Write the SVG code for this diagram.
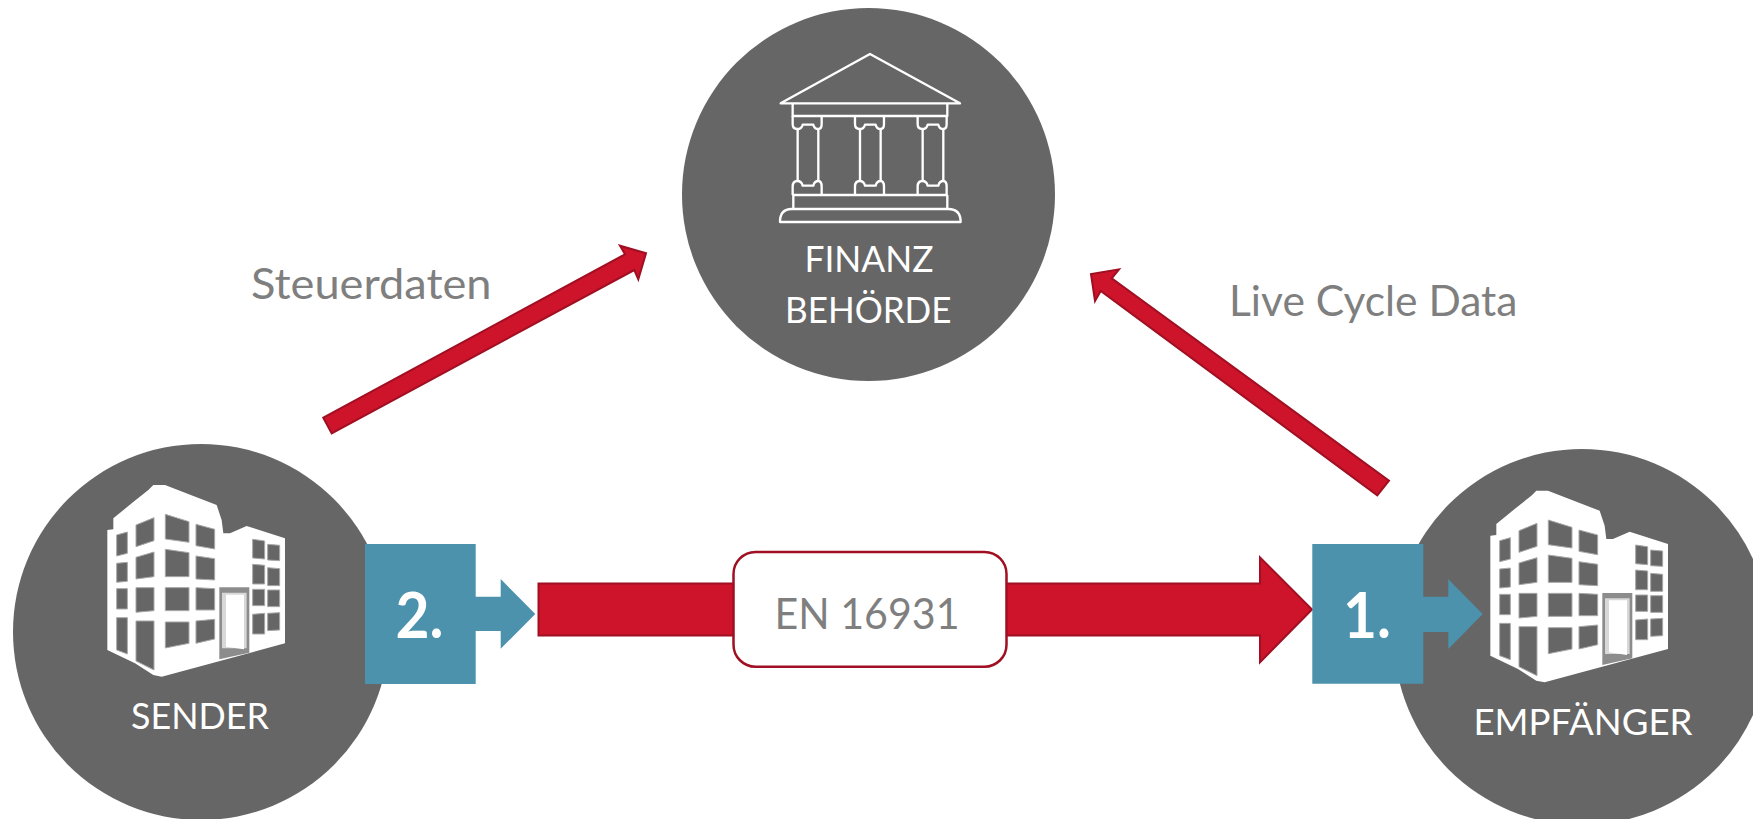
<svg xmlns="http://www.w3.org/2000/svg" width="1753" height="819" viewBox="0 0 1753 819">
<style>
text{font-family:Lato,"Open Sans","Liberation Sans",sans-serif}
.disc{fill:#666666}
.lbl{fill:#ffffff;font-size:37px}
.num{fill:#ffffff;font-size:64px;font-weight:700}
.grey{fill:#7f7f7f;font-size:42px}
.red{fill:#cd142b;stroke:#a00f22;stroke-width:2}
.blue{fill:#4c92ad}
.win{fill:#666666;stroke:#a8a8a8;stroke-width:3}
.tl{fill:none;stroke:#ffffff;stroke-width:7;stroke-linejoin:round}
</style>
<defs>
<filter id="soft" x="-5%" y="-5%" width="110%" height="110%"><feGaussianBlur stdDeviation="0.6"/></filter>
<g id="building" transform="scale(0.3333)" filter="url(#soft)">
<polygon fill="#ffffff" points="52,180 70,178 70,145 125,100 175,60 190,45 225,45 380,105 395,150 400,190 420,190 470,168 585,205 585,520 215,620 190,615 135,580 52,540"/>
<g class="win">
<polygon points="80,195 112,186 112,250 80,258"/><polygon points="80,280 112,277 112,334 80,337"/><polygon points="80,356 112,356 112,417 80,417"/><polygon points="80,443 112,443 112,552 80,540"/>
<polygon points="138,165 192,143 192,212 138,230"/><polygon points="138,262 192,246 192,320 138,327"/><polygon points="138,353 192,353 192,422 138,427"/><polygon points="138,453 192,453 192,600 138,573"/>
<polygon points="226,133 297,155 297,217 226,207"/><polygon points="226,238 297,248 297,320 226,320"/><polygon points="226,353 297,353 297,422 226,422"/><polygon points="226,456 297,456 297,520 226,534"/>
<polygon points="318,163 374,178 374,237 318,227"/><polygon points="318,258 374,266 374,330 318,327"/><polygon points="318,353 374,356 374,420 318,420"/><polygon points="318,453 374,448 374,507 318,520"/>
<polygon points="488,208 524,213 524,267 488,264"/><polygon points="488,283 524,286 524,342 488,342"/><polygon points="488,358 524,358 524,407 488,407"/><polygon points="488,433 524,430 524,492 488,492"/>
<polygon points="533,223 569,226 569,272 533,270"/><polygon points="533,293 569,296 569,347 533,347"/><polygon points="533,360 569,360 569,410 533,410"/><polygon points="533,430 569,428 569,480 533,482"/>
</g>
<polygon fill="#8c8c8c" points="388,352 478,352 478,548 388,568"/>
<polygon fill="#d8d8d8" points="396,368 470,368 470,535 396,535"/>
<polygon fill="#ffffff" points="408,374 462,374 462,538 408,530"/>
</g>
<g id="col" class="tl">
<path d="M218 258V282Q218 297 232 297Q245 297 248 284H280Q283 297 295 297Q305 297 305 282V258"/>
<path d="M218 495V470Q218 453 232 453Q245 453 248 467H280Q283 453 295 453Q305 453 305 470V495"/>
<path d="M233 297V453M295 297V453"/>
</g>
</defs>

<g id="node-finanz">
<circle class="disc" cx="868.500" cy="194.500" r="186.500"/>
<g transform="translate(720,30) scale(0.3333)" class="tl">
<polygon points="182,220 450,72 720,220"/>
<path d="M218 222V258H682V222"/>
<use href="#col"/><use href="#col" x="187"/><use href="#col" x="375"/>
<path d="M218 495H682M220 495V537M682 495V537"/>
<path d="M180 576Q180 537 215 537H685Q722 537 722 576Z"/>
</g>
<text class="lbl" x="804.500" y="271.700" textLength="129" lengthAdjust="spacingAndGlyphs">FINANZ</text>
<text class="lbl" x="785" y="323" textLength="166.500" lengthAdjust="spacingAndGlyphs">BEHÖRDE</text>
</g>

<g id="node-sender">
<circle class="disc" cx="201" cy="632" r="188"/>
<use href="#building" x="90" y="470"/>
<text class="lbl" x="131" y="729.300" textLength="138" lengthAdjust="spacingAndGlyphs">SENDER</text>
</g>

<g id="node-empfaenger">
<circle class="disc" cx="1582" cy="637" r="188"/>
<use href="#building" x="1473" y="475.700"/>
<text class="lbl" x="1473.500" y="735" textLength="219" lengthAdjust="spacingAndGlyphs">EMPFÄNGER</text>
</g>

<g id="connectors">
<polygon class="red" points="323.300,417.700 331.700,433.300 634.300,270 638.300,279.300 646,253.300 620,245.700 625,254.300"/>
<polygon class="red" points="1389,480.700 1377.300,495.300 1100.700,291 1095,301 1091,274 1119,269.300 1111.700,278.300"/>
<polygon class="red" points="538.500,583.500 1260,583.500 1260,557.300 1312,609.500 1260,662.300 1260,635.500 538.500,635.500"/>
</g>

<g id="node-standard">
<rect x="733.500" y="552" width="273" height="114.700" rx="22" fill="#ffffff" stroke="#a00f22" stroke-width="2.500"/>
<text class="grey" x="774.500" y="629.300" textLength="185" lengthAdjust="spacingAndGlyphs">EN 16931</text>
</g>

<g id="node-step2">
<polygon class="blue" points="365,544 475.700,544 475.700,596.700 500.700,596.700 500.700,579 535.300,614 500.700,648.700 500.700,631 475.700,631 475.700,684 365,684"/>
<text class="num" x="395.500" y="637.700" textLength="48" lengthAdjust="spacingAndGlyphs">2.</text>
</g>
<g id="node-step1">
<polygon class="blue" points="1312.300,544 1423.300,544 1423.300,596.700 1448.300,596.700 1448.300,579.300 1482.700,614 1448.300,649 1448.300,632 1423.300,632 1423.300,683.700 1312.300,683.700"/>
<text class="num" x="1343" y="637.700" textLength="48" lengthAdjust="spacingAndGlyphs">1.</text>
</g>

<text id="label-steuerdaten" class="grey" x="251" y="299.300" textLength="240.500" lengthAdjust="spacingAndGlyphs">Steuerdaten</text>
<text id="label-lcd" class="grey" x="1229" y="315.700" textLength="288.500" lengthAdjust="spacingAndGlyphs">Live Cycle Data</text>
</svg>
